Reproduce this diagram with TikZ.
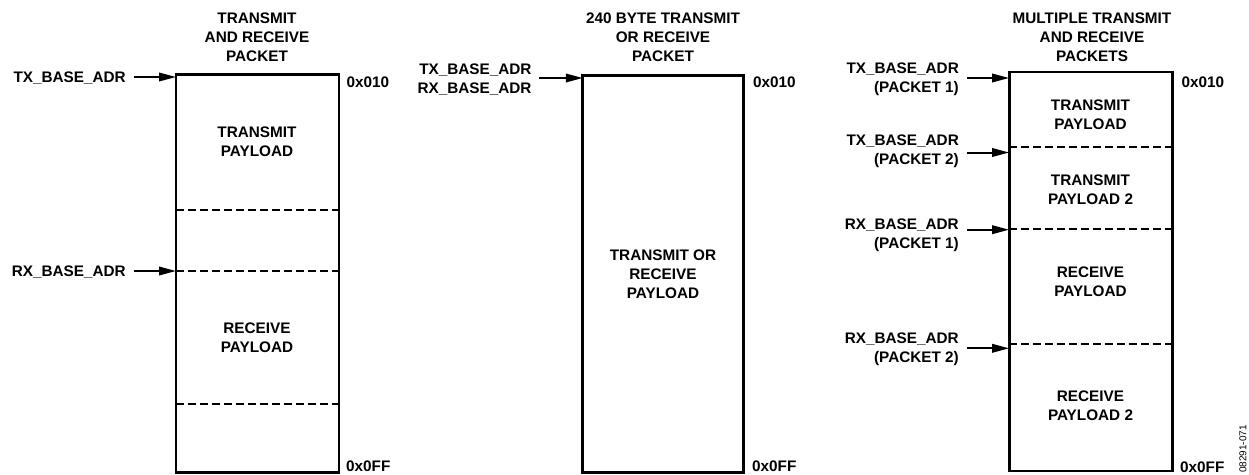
\documentclass[tikz,border=0pt]{standalone}
\usepackage{fontspec}
\setmainfont{Liberation Sans}
\usetikzlibrary{arrows.meta}
\begin{document}
\begin{tikzpicture}[x=1pt,y=-1pt,
  txt/.style={font=\fontsize{15.3}{19}\selectfont\bfseries, align=center, inner sep=0pt},
  lbl/.style={font=\fontsize{15.3}{19}\selectfont\bfseries, align=right, inner sep=0pt, anchor=east},
  addr/.style={font=\fontsize{15.3}{19}\selectfont\bfseries, inner sep=0pt, anchor=west},
  mem/.style={draw, line width=2.9pt, inner sep=0pt},
  divider/.style={line width=2pt, dash pattern=on 8pt off 4pt},
  arr/.style={line width=2pt, -{Triangle[length=17pt,width=8.5pt]}, shorten <=7.5pt}
]
\useasboundingbox (0,0) rectangle (1249,474);

% ---------- left panel ----------
\node[mem, minimum width=163pt, minimum height=398pt] (b1) at (257.5,273.5) {};
\node[txt] (t1) at (257,37) {TRANSMIT\\AND RECEIVE\\PACKET};
\coordinate (d1a) at (176,210);
\coordinate (d1b) at (176,271);
\coordinate (d1c) at (176,404);
\draw[divider] (d1a) -- (d1a -| b1.east);
\draw[divider] (d1b) -- (d1b -| b1.east);
\draw[divider] (d1c) -- (d1c -| b1.east);
\node[txt] (p1a) at (257,142) {TRANSMIT\\PAYLOAD};
\node[txt] (p1b) at (257,337.5) {RECEIVE\\PAYLOAD};
\node[lbl] (l1tx) at (126,78) {TX\_BASE\_ADR};
\node[lbl] (l1rx) at (126,272) {RX\_BASE\_ADR};
\coordinate (a1tx) at (176,77);
\draw[arr] (l1tx.east |- a1tx) -- (a1tx);
\draw[arr] (l1rx.east |- d1b) -- (d1b);
\node[addr] (h1a) at (346.5,82.5) {0x010};
\node[addr] (h1b) at (346,466) {0x0FF};

% ---------- middle panel ----------
\node[mem, minimum width=161pt, minimum height=397.5pt] (b2) at (663.3,273.8) {};
\node[txt] (t2) at (663,37) {240 BYTE TRANSMIT\\OR RECEIVE\\PACKET};
\node[txt] (p2) at (663,274.5) {TRANSMIT OR\\RECEIVE\\PAYLOAD};
\node[lbl] (l2) at (531.7,79.5) {TX\_BASE\_ADR\\RX\_BASE\_ADR};
\coordinate (a2) at (582.8,78);
\draw[arr] (l2.east |- a2) -- (a2);
\node[addr] (h2a) at (753,82) {0x010};
\node[addr] (h2b) at (752,466) {0x0FF};

% ---------- right panel ----------
\node[mem, minimum width=163pt, minimum height=399pt] (b3) at (1090.6,271.5) {};
\node[txt] (t3) at (1092,37) {MULTIPLE TRANSMIT\\AND RECEIVE\\PACKETS};
\coordinate (d3a) at (1009.1,146.7);
\coordinate (d3b) at (1009.1,229.3);
\coordinate (d3c) at (1009.1,344.3);
\draw[divider] (d3a) -- (d3a -| b3.east);
\draw[divider] (d3b) -- (d3b -| b3.east);
\draw[divider] (d3c) -- (d3c -| b3.east);
\node[txt] (p3a) at (1090.5,115) {TRANSMIT\\PAYLOAD};
\node[txt] (p3b) at (1090.5,190) {TRANSMIT\\PAYLOAD 2};
\node[txt] (p3c) at (1090.5,281.5) {RECEIVE\\PAYLOAD};
\node[txt] (p3d) at (1090.5,405.5) {RECEIVE\\PAYLOAD 2};
\node[lbl] (l3a) at (959,79.5) {TX\_BASE\_ADR\\(PACKET 1)};
\node[lbl] (l3b) at (959,151.7) {TX\_BASE\_ADR\\(PACKET 2)};
\node[lbl] (l3c) at (959,235.5) {RX\_BASE\_ADR\\(PACKET 1)};
\node[lbl] (l3d) at (959,349.5) {RX\_BASE\_ADR\\(PACKET 2)};
\coordinate (a3a) at (1009.1,78);
\coordinate (a3b) at (1009.1,152.5);
\coordinate (a3c) at (1009.1,229.7);
\coordinate (a3d) at (1009.1,348.3);
\draw[arr] (l3a.east |- a3a) -- (a3a);
\draw[arr] (l3b.east |- a3b) -- (a3b);
\draw[arr] (l3c.east |- a3c) -- (a3c);
\draw[arr] (l3d.east |- a3d) -- (a3d);
\node[addr] (h3a) at (1181.5,82) {0x010};
\node[addr] (h3b) at (1180,467.5) {0x0FF};

\node[font=\fontsize{10}{11}\selectfont, inner sep=0pt, rotate=90] (code) at (1243,449) {08291-071};
\end{tikzpicture}
\end{document}
